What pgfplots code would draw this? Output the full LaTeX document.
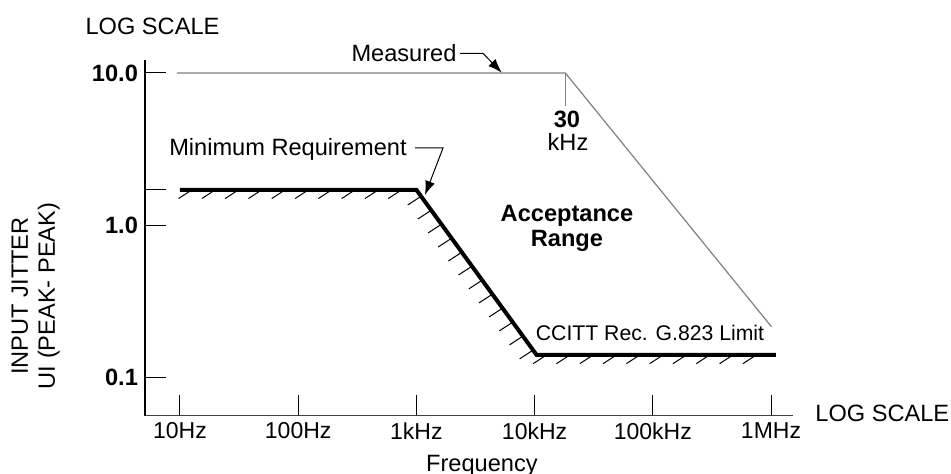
\documentclass[border=0pt]{standalone}
\usepackage{fontspec}
\setmainfont{Liberation Sans}
\usepackage{pgfplots}
\pgfplotsset{compat=1.18}
\usetikzlibrary{arrows.meta,decorations.markings}
\tikzset{
  hatch/.style n args={2}{draw=none, postaction={decorate},
    decoration={markings,
      mark=between positions #1 and 1 step #2 with {\pgftransformresetnontranslations
        \pgfsetlinewidth{0.5pt}\pgfsetstrokecolor{black}%
        \pgfpathmoveto{\pgfpointorigin}%
        \pgfpathlineto{\pgfpointpolar{213}{8pt}}%
        \pgfusepath{stroke}}}},
  ann/.style={line width=0.5pt, -{Latex[length=7pt,width=5pt]}},
}
\begin{document}
\begin{tikzpicture}[font=\fontsize{11.8}{13.5}\selectfont]
\path[use as bounding box] (-72.5pt,-29.15pt) rectangle (403pt,207.85pt);
\begin{axis}[
  at={(0,0)}, anchor=south west,
  scale only axis, width=324pt, height=177.85pt,
  xmode=log, ymode=log,
  xmin=5.06, xmax=1.535e6, ymin=0.0563, ymax=12.17,
  axis lines=left,
  axis line style={-},
  x axis line style={line width=0.8pt, black!75},
  y axis line style={line width=0.6pt, black},
  xtick={10,100,1000,10000,100000,1000000},
  xticklabels={10Hz,100Hz,1kHz,10kHz,100kHz,1MHz},
  ytick={0.1,1,10,1.71},
  yticklabels={0.1,1.0,10.0,{}},
  xticklabel style={font=\fontsize{11.5}{13.5}\selectfont},
  yticklabel style={font=\fontsize{11.8}{13.5}\selectfont\bfseries},
  xminorticks=false, yminorticks=false,
  tick align=inside,
  xtick align=inside, ytick align=inside,
  major tick length=10.5pt,
  tick style={line width=0.5pt, black},
  clip=false,
]
% Measured curve
\addplot[black!50, line width=0.6pt] coordinates {(9.4,10) (18200,10) (1.01e6,0.216)};
\addplot[black!50, line width=0.6pt] coordinates {(18200,10) (18200,6.07)};
% Minimum requirement
\addplot[hatch={6pt}{11.65pt}] coordinates {(10,1.71) (1000,1.71)};
\addplot[hatch={4pt}{8.65pt}] coordinates {(1000,1.71) (10400,0.141)};
\addplot[hatch={5pt}{11.65pt}] coordinates {(10400,0.141) (1.1e6,0.141)};
\addplot[black, line width=2pt] coordinates {(10,1.71) (1000,1.71) (10400,0.141) (1.1e6,0.141)};

% texts
\node[anchor=base] at (rel axis cs:0.0116,1.0703) {LOG SCALE};
\node[anchor=base west, inner sep=0pt] at (rel axis cs:1.034,-0.0169) {LOG SCALE};
\node[anchor=base] at (rel axis cs:0.520,-0.1555) {Frequency};
\node[rotate=90, align=center] at (rel axis cs:-0.1685,0.3365) {INPUT JITTER\\UI (PEAK- PEAK)};

\node[anchor=base] at (rel axis cs:0.3997,0.9952) {Measured};
\draw[ann] (rel axis cs:0.486,1.0188) -- (rel axis cs:0.5216,1.0188) -- (rel axis cs:0.5505,0.9643);
\node[anchor=base] at (rel axis cs:0.6512,0.8097) {\bfseries 30};
\node[anchor=base] at (rel axis cs:0.6528,0.745) {kHz};

\node[anchor=base] at (rel axis cs:0.2207,0.7301) {Minimum Requirement};
\draw[ann] (rel axis cs:0.4167,0.7526) -- (rel axis cs:0.4599,0.7526) -- (rel axis cs:0.4321,0.6205);

\node[anchor=base] at (rel axis cs:0.6512,0.5454) {\bfseries Acceptance};
\node[anchor=base] at (rel axis cs:0.6512,0.4751) {\bfseries Range};

\node[anchor=base, font=\fontsize{10.6}{12}\selectfont] at (rel axis cs:0.7793,0.2128) {CCITT Rec. G.823 Limit};
\end{axis}
\end{tikzpicture}
\end{document}
